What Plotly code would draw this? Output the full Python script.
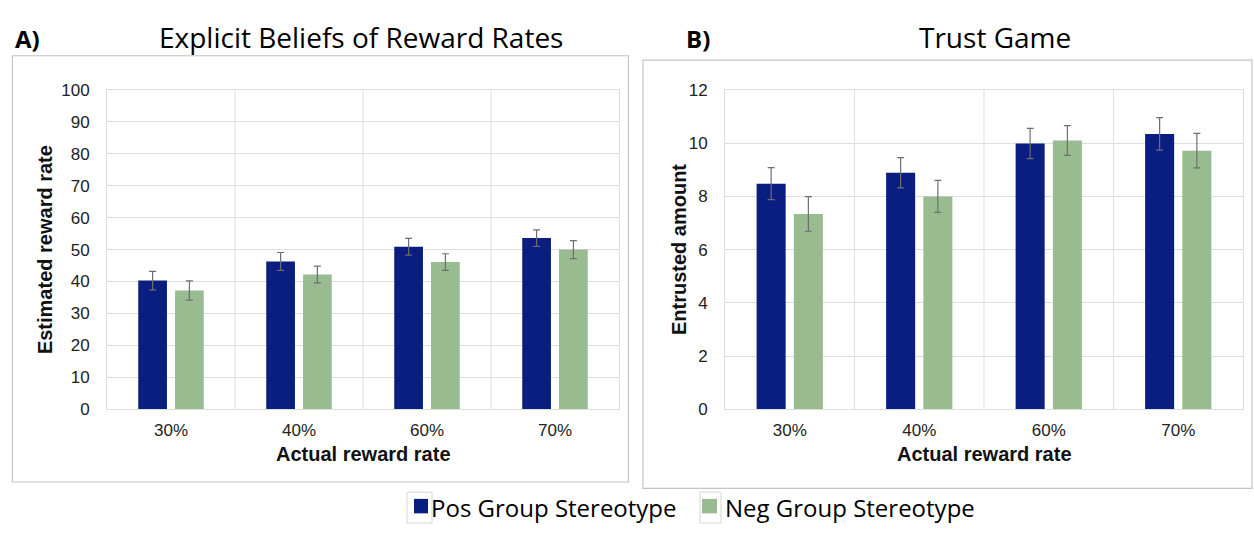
import plotly.graph_objects as go

# Reward-rate conditions shown on both panels
categories = ["30%", "40%", "60%", "70%"]
series_names = ["Pos Group Stereotype", "Neg Group Stereotype"]

# Panel A: explicit beliefs of reward rates (mean and error)
beliefs_pos = [40.3, 46.3, 50.9, 53.6]
beliefs_pos_err = [2.9, 2.8, 2.6, 2.6]
beliefs_neg = [37.2, 42.2, 46.1, 50.0]
beliefs_neg_err = [3.0, 2.6, 2.6, 2.8]

# Panel B: trust game entrusted amounts (mean and error)
trust_pos = [8.48, 8.89, 9.99, 10.35]
trust_pos_err = [0.60, 0.57, 0.57, 0.61]
trust_neg = [7.34, 8.00, 10.10, 9.72]
trust_neg_err = [0.65, 0.60, 0.56, 0.65]

beliefs_ticks = [0, 10, 20, 30, 40, 50, 60, 70, 80, 90, 100]
trust_ticks = [0, 2, 4, 6, 8, 10, 12]

COLORS = ["#0a1d80", "#99bb90"]
ERR_COLOR = "#6e6e6e"
GRID = "#dedede"
FRAME = "#c4c4c4"
AX_FONT = "Liberation Sans, Arial, sans-serif"
TITLE_FONT = "Open Sans, Lato, sans-serif"

W, H = 1254, 533


def px(x):
    return x / W


def py(y):
    return 1 - y / H


fig = go.Figure()

panels = [
    ("x", "y", [beliefs_pos, beliefs_neg], [beliefs_pos_err, beliefs_neg_err]),
    ("x2", "y2", [trust_pos, trust_neg], [trust_pos_err, trust_neg_err]),
]
for xa, ya, vals, errs in panels:
    for i in range(2):
        fig.add_trace(go.Bar(
            x=categories, y=vals[i], name=series_names[i],
            marker=dict(color=COLORS[i], line=dict(width=0)),
            error_y=dict(type="data", array=errs[i], color=ERR_COLOR,
                         thickness=1.2, width=3.5),
            xaxis=xa, yaxis=ya, showlegend=False,
        ))

axis_common = dict(
    showline=True, mirror=True, linecolor=GRID, linewidth=1,
    zeroline=False, ticks="",
    tickfont=dict(family=AX_FONT, size=17, color="#222222"),
    fixedrange=True,
)

fig.update_layout(
    width=W, height=H,
    margin=dict(l=0, r=0, t=0, b=0),
    paper_bgcolor="white", plot_bgcolor="white",
    barmode="group", bargap=0.425, bargroupgap=0.22,
    xaxis=dict(domain=[px(107), px(619)], anchor="y", type="category",
               ticklabelstandoff=5, showgrid=False, **axis_common),
    yaxis=dict(domain=[py(415), py(84)], anchor="x", range=[0, 100],
               tickvals=beliefs_ticks, ticklabelstandoff=13,
               showgrid=True, gridcolor=GRID, gridwidth=1, **axis_common),
    xaxis2=dict(domain=[px(725), px(1243)], anchor="y2", type="category",
                ticklabelstandoff=5, showgrid=False, **axis_common),
    yaxis2=dict(domain=[py(415), py(84)], anchor="x2", range=[0, 12],
                tickvals=trust_ticks, ticklabelstandoff=13,
                showgrid=True, gridcolor=GRID, gridwidth=1, **axis_common),
)

shapes = []
# vertical separators between categories
for xr, yr in [("x", "y"), ("x2", "y2")]:
    for b in [0.5, 1.5, 2.5]:
        shapes.append(dict(type="line", xref=xr, yref=f"{yr} domain",
                           x0=b, x1=b, y0=0, y1=1,
                           line=dict(color=GRID, width=1), layer="below"))
# panel frames
shapes.append(dict(type="rect", xref="paper", yref="paper",
                   x0=px(12.5), x1=px(628.5), y0=py(490.5), y1=py(48.5),
                   line=dict(color=FRAME, width=1.2)))
shapes.append(dict(type="rect", xref="paper", yref="paper",
                   x0=px(643), x1=px(1252), y0=py(497), y1=py(53),
                   line=dict(color=FRAME, width=1.2)))
# legend keys with their boxes
legend_keys = [(407, 432, 414, 428, COLORS[0]), (700, 721, 702, 717, COLORS[1])]
for bx0, bx1, sx0, sx1, c in legend_keys:
    shapes.append(dict(type="rect", xref="paper", yref="paper",
                       x0=px(bx0), x1=px(bx1), y0=py(533), y1=py(501),
                       line=dict(color="#d6d6d6", width=1), fillcolor="white"))
    shapes.append(dict(type="rect", xref="paper", yref="paper",
                       x0=px(sx0), x1=px(sx1), y0=py(523), y1=py(508),
                       line=dict(width=0), fillcolor=c))
fig.update_layout(shapes=shapes)

ann = []


def text(x, y, s, size, family, bold=False, xanchor="center", angle=0, color="#111111"):
    ann.append(dict(xref="paper", yref="paper", x=px(x), y=py(y),
                    text=f"<b>{s}</b>" if bold else s,
                    showarrow=False, xanchor=xanchor, yanchor="middle", textangle=angle,
                    font=dict(family=family, size=size, color=color)))


# panel letters and titles
text(13, 31, "A)", 24, TITLE_FONT, bold=True, xanchor="left", color="#000000")
text(361, 29, "Explicit Beliefs of Reward Rates", 28, TITLE_FONT, color="#000000")
text(684, 31, "B)", 24, TITLE_FONT, bold=True, xanchor="left", color="#000000")
text(995, 29, "Trust Game", 28, TITLE_FONT, color="#000000")
# axis titles
text(363, 461, "Actual reward rate", 20, AX_FONT, bold=True)
text(984, 461, "Actual reward rate", 20, AX_FONT, bold=True)
text(45, 250, "Estimated reward rate", 20, AX_FONT, bold=True, angle=-90)
text(679, 250, "Entrusted amount", 20, AX_FONT, bold=True, angle=-90)
# legend labels
text(429, 517, series_names[0], 24, TITLE_FONT, xanchor="left", color="#000000")
text(723, 517, series_names[1], 24, TITLE_FONT, xanchor="left", color="#000000")
fig.update_layout(annotations=ann)

fig.write_html("out.html")
